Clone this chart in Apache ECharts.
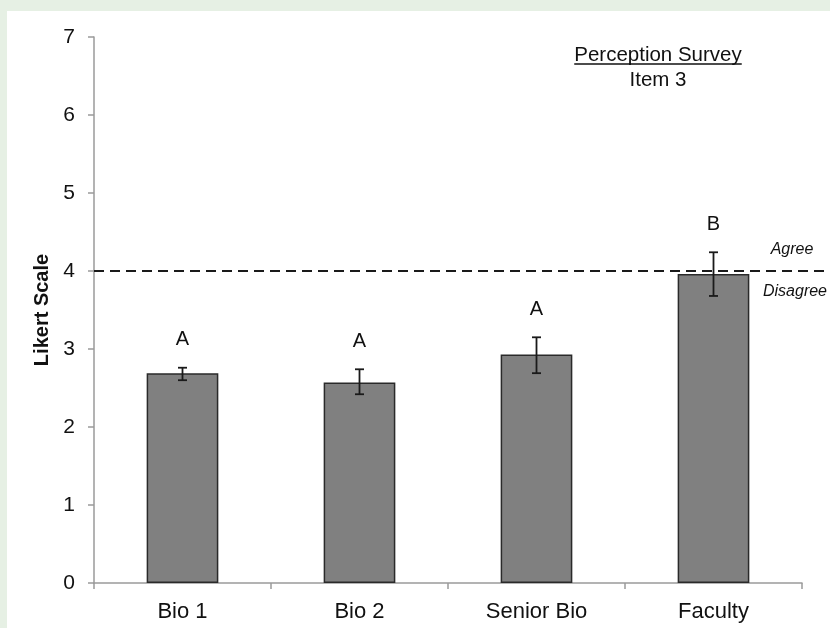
<!DOCTYPE html>
<html>
<head>
<meta charset="utf-8">
<script src="https://cdn.jsdelivr.net/npm/echarts@6/dist/echarts.min.js"></script>
<style>
html,body{margin:0;padding:0;}
#wrap{position:relative;width:830px;height:628px;background:#e6f0e4;overflow:hidden;}
#chart{position:absolute;left:7px;top:11px;width:823px;height:617px;background:#ffffff;}
</style>
</head>
<body>
<div id="wrap"><div id="chart"></div></div>
<script>
const categories = ['Bio 1', 'Bio 2', 'Senior Bio', 'Faculty'];
const means = [2.69, 2.57, 2.93, 3.96];
const errLow = [2.60, 2.42, 2.69, 3.68];
const errHigh = [2.76, 2.74, 3.15, 4.24];
const groupLetters = ['A', 'A', 'A', 'B'];
const yTicks = [0, 1, 2, 3, 4, 5, 6, 7];
const thresholdValue = 4;
const thresholdLabels = ['Agree', 'Disagree'];
const titleLines = ['Perception Survey', 'Item 3'];

const FONT = '"Liberation Sans", Arial, sans-serif';
const TITLE_FONT = '20.5px ' + FONT;
const chart = echarts.init(document.getElementById('chart'), null, {renderer: 'canvas'});

const errData = categories.map((c, i) => [i, errLow[i], errHigh[i]]);

const w0 = echarts.format.getTextRect(titleLines[0], TITLE_FONT).width;
const w1 = echarts.format.getTextRect(titleLines[1], TITLE_FONT).width;
const titleCx = 658 - 7;

const option = {
  animation: false,
  backgroundColor: '#ffffff',
  grid: {left: 87, right: 28, top: 26, bottom: 45, containLabel: false},
  xAxis: {
    type: 'category',
    data: categories,
    boundaryGap: true,
    axisLine: {show: true, lineStyle: {color: '#9a9a9a', width: 1.5}},
    axisTick: {show: true, inside: false, length: 6, alignWithLabel: false, lineStyle: {color: '#9a9a9a', width: 1.5}},
    axisLabel: {color: '#111', fontSize: 22, fontFamily: FONT, margin: 18},
    splitLine: {show: false}
  },
  yAxis: {
    type: 'value',
    min: yTicks[0],
    max: yTicks[yTicks.length - 1],
    interval: 1,
    name: 'Likert Scale',
    nameLocation: 'middle',
    nameGap: 40,
    nameRotate: 90,
    nameTextStyle: {color: '#111', fontSize: 20, fontWeight: 'bold', fontFamily: FONT},
    axisLine: {show: true, lineStyle: {color: '#9a9a9a', width: 1.5}},
    axisTick: {show: true, inside: false, length: 6, lineStyle: {color: '#9a9a9a', width: 1.5}},
    axisLabel: {color: '#111', fontSize: 21, fontFamily: FONT, margin: 19},
    splitLine: {show: false}
  },
  graphic: [
    {
      type: 'text', left: titleCx - w0 / 2, top: 45 - 11,
      style: {text: titleLines[0], font: TITLE_FONT, fill: '#111'}
    },
    {
      type: 'line', shape: {x1: titleCx - w0 / 2, y1: 64 - 11, x2: titleCx + w0 / 2, y2: 64 - 11},
      style: {stroke: '#111', lineWidth: 1.3}
    },
    {
      type: 'text', left: titleCx - w1 / 2, top: 70 - 11,
      style: {text: titleLines[1], font: TITLE_FONT, fill: '#111'}
    }
  ],
  series: [
    {
      type: 'bar',
      data: means,
      barWidth: '40.5%',
      itemStyle: {color: '#808080', borderColor: '#2a2a2a', borderWidth: 1.5},
      z: 2
    },
    {
      type: 'custom',
      data: errData,
      z: 5,
      renderItem: function (params, api) {
        const lo = api.coord([api.value(0), api.value(1)]);
        const hi = api.coord([api.value(0), api.value(2)]);
        const cap = 4.5;
        const st = {stroke: '#1a1a1a', lineWidth: 1.8};
        return {
          type: 'group',
          children: [
            {type: 'line', shape: {x1: lo[0], y1: lo[1], x2: hi[0], y2: hi[1]}, style: st},
            {type: 'line', shape: {x1: lo[0] - cap, y1: lo[1], x2: lo[0] + cap, y2: lo[1]}, style: st},
            {type: 'line', shape: {x1: hi[0] - cap, y1: hi[1], x2: hi[0] + cap, y2: hi[1]}, style: st},
            {type: 'text', x: hi[0], y: hi[1] - 28,
              style: {text: groupLetters[params.dataIndex], font: '20px ' + FONT, fill: '#111', align: 'center', verticalAlign: 'middle'}}
          ]
        };
      }
    },
    {
      type: 'custom',
      data: [[0, thresholdValue]],
      z: 4,
      clip: false,
      renderItem: function (params, api) {
        const p = api.coord([0, api.value(1)]);
        const cs = params.coordSys;
        const x0 = cs.x;
        const x1 = api.getWidth();
        return {
          type: 'group',
          children: [
            {type: 'line', shape: {x1: x0, y1: p[1], x2: x1, y2: p[1]},
              style: {stroke: '#1a1a1a', lineWidth: 2, lineDash: [10, 6]}},
            {type: 'text', x: x1 - 38, y: p[1] - 21,
              style: {text: thresholdLabels[0], font: 'italic 16px ' + FONT, fill: '#111', align: 'center', verticalAlign: 'middle'}},
            {type: 'text', x: x1 - 35, y: p[1] + 21,
              style: {text: thresholdLabels[1], font: 'italic 16px ' + FONT, fill: '#111', align: 'center', verticalAlign: 'middle'}}
          ]
        };
      }
    }
  ]
};
chart.setOption(option);
</script>
</body>
</html>
